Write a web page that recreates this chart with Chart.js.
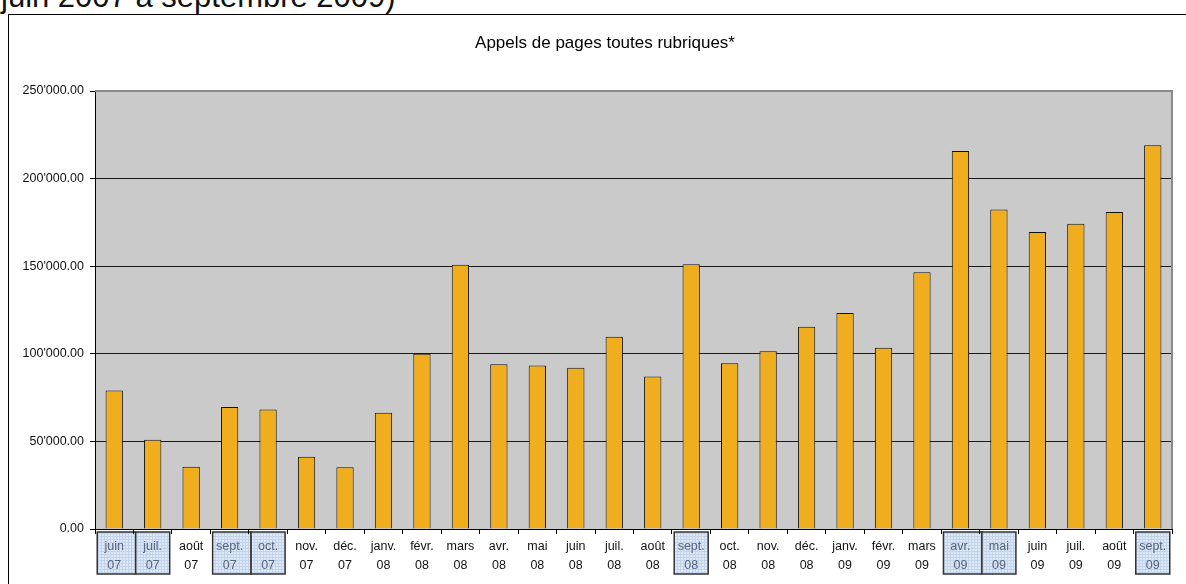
<!DOCTYPE html>
<html>
<head>
<meta charset="utf-8">
<script src="https://cdn.jsdelivr.net/npm/chart.js@4.4.1/dist/chart.umd.min.js"></script>
<style>
  html, body { margin:0; padding:0; width:1186px; height:584px; overflow:hidden; background:#fff; }
  #bigTitle { position:absolute; left:1px; top:-19px; font-family:'Liberation Sans', Arial, sans-serif; font-size:31px; line-height:31px; color:#111; white-space:nowrap; }
  #frame { position:absolute; left:8px; top:14px; width:1300px; height:700px; border:1.5px solid #000; box-sizing:border-box; }
  #c { position:absolute; left:0; top:0; }
</style>
</head>
<body>
<div id="bigTitle">juin 2007 à septembre 2009)</div>
<div id="frame"></div>
<canvas id="c" width="1186" height="584"></canvas>
<script>
const monthLabels = ["juin","juil.","août","sept.","oct.","nov.","déc.","janv.","févr.","mars","avr.","mai","juin","juil.","août","sept.","oct.","nov.","déc.","janv.","févr.","mars","avr.","mai","juin","juil.","août","sept."];
const yearLabels  = ["07","07","07","07","07","07","07","08","08","08","08","08","08","08","08","08","08","08","08","09","09","09","09","09","09","09","09","09"];
const pageViews   = [79000,51000,35500,69700,68200,41200,35300,66300,100000,150800,94000,93300,92000,109800,87100,151100,94600,101400,115400,123300,103400,146600,215700,182300,169500,174200,181000,219000];
const highlighted = [0,1,3,4,15,22,23,27];
const chartTitle  = "Appels de pages toutes rubriques*";
const yMin = 0, yMax = 250000, yStep = 50000;

const FONT = "'Liberation Sans', Arial, sans-serif";
const labels = monthLabels.map((m, i) => [m, yearLabels[i]]);

function fmt(v) {
  const s = Number(v).toFixed(2);
  const parts = s.split('.');
  return parts[0].replace(/\B(?=(\d{3})+(?!\d))/g, "'") + '.' + parts[1];
}

function makePattern(ctx) {
  const pc = document.createElement('canvas');
  pc.width = 3; pc.height = 3;
  const p = pc.getContext('2d');
  p.fillStyle = '#dde9f7';
  p.fillRect(0, 0, 3, 3);
  p.fillStyle = '#c2d3ea';
  p.fillRect(0, 2, 3, 1);
  p.fillRect(2, 0, 1, 3);
  return ctx.createPattern(pc, 'repeat');
}

const bgPlugin = {
  id: 'bgPlugin',
  afterLayout(chart) {
    // centre the title over the framed area (frame starts at x=8, plot area ends at right)
    if (chart.titleBlock) chart.titleBlock.left = 38;
  },
  beforeDraw(chart) {
    const ctx = chart.ctx;
    const a = chart.chartArea;
    ctx.save();
    ctx.fillStyle = '#cacaca';
    ctx.fillRect(a.left, a.top, a.right - a.left, a.bottom - a.top);
    const xs = chart.scales.x;
    const pat = makePattern(ctx);
    const half = 17;
    const top = a.bottom + 3, bottom = 574;
    highlighted.forEach(i => {
      const c = xs.getPixelForValue(i);
      let l = c - half, r = c + half;
      if (highlighted.includes(i + 1)) r = xs.getPixelForValue(i + 1) - half;
      ctx.fillStyle = pat;
      ctx.fillRect(l, top, r - l, bottom - top);
      ctx.strokeStyle = '#333';
      ctx.lineWidth = 1.5;
      ctx.strokeRect(l, top, r - l, bottom - top);
    });
    ctx.restore();
  },
  afterDraw(chart) {
    const ctx = chart.ctx;
    const a = chart.chartArea;
    ctx.save();
    ctx.strokeStyle = '#8a8a8a';
    ctx.lineWidth = 2;
    ctx.beginPath();
    ctx.moveTo(a.left, a.top);
    ctx.lineTo(a.right, a.top);
    ctx.lineTo(a.right, a.bottom);
    ctx.stroke();
    ctx.restore();
  }
};

new Chart(document.getElementById('c'), {
  type: 'bar',
  data: {
    labels: labels,
    datasets: [{
      data: pageViews,
      backgroundColor: '#f0ae1f',
      borderColor: '#111',
      borderWidth: 1,
      barPercentage: 0.45,
      categoryPercentage: 1.0
    }]
  },
  options: {
    responsive: false,
    devicePixelRatio: 1,
    animation: false,
    layout: { padding: { left: 0, right: 14, top: 0, bottom: 0 } },
    plugins: {
      legend: { display: false },
      tooltip: { enabled: false },
      title: {
        display: true,
        text: chartTitle,
        color: '#000',
        font: { family: FONT, size: 17, weight: 'normal', lineHeight: 1.2 },
        padding: { top: 33, bottom: 37.6 }
      }
    },
    scales: {
      x: {
        offset: true,
        grid: { display: true, drawOnChartArea: false, drawTicks: true, tickLength: 5, color: '#000', offset: true },
        border: { display: true, color: '#000', width: 1 },
        ticks: {
          autoSkip: false, maxRotation: 0, minRotation: 0, padding: 3,
          font: { family: FONT, size: 12.5, lineHeight: 1.5 },
          color: (ctx) => highlighted.includes(ctx.index) ? '#56667e' : '#111'
        },
        afterFit: (s) => { s.height = 55; }
      },
      y: {
        min: yMin, max: yMax,
        ticks: {
          stepSize: yStep, padding: 6,
          font: { family: FONT, size: 12.5 },
          color: '#111',
          callback: (v) => fmt(v)
        },
        grid: {
          color: (ctx) => (ctx.tick && ctx.tick.value === yMax) ? '#8a8a8a' : '#1a1a1a',
          tickColor: '#000',
          tickLength: 5,
          lineWidth: 1
        },
        border: { display: true, color: '#000', width: 1 },
        afterFit: (s) => { s.width = 95; }
      }
    }
  },
  plugins: [bgPlugin]
});
</script>
</body>
</html>
